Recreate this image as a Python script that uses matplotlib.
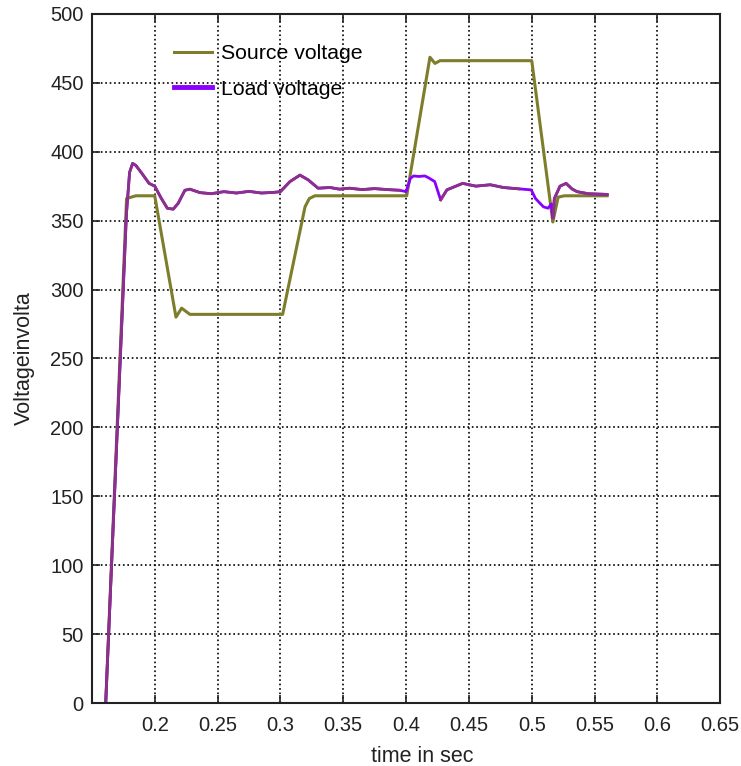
import numpy as np
import matplotlib
matplotlib.use('Agg')
from matplotlib import pyplot as plt

plt.rcParams['font.family'] = ['Liberation Sans', 'DejaVu Sans']

# source voltage trace (time in s, volts)
src_t = [0.161, 0.1776, 0.185, 0.2, 0.2169, 0.2214, 0.228, 0.3018, 0.3196, 0.323,
         0.3275, 0.4, 0.4005, 0.419, 0.423, 0.427, 0.5, 0.5168, 0.521, 0.526, 0.56]
src_v = [0, 366, 368, 368, 280, 286.5, 282, 282, 360, 366,
         368, 368, 368, 468.5, 464, 466, 466, 349, 367, 368, 368]

# load voltage trace
load_t = [0.161, 0.1775, 0.18, 0.1824, 0.185, 0.19, 0.1955, 0.2, 0.205, 0.21,
          0.2147, 0.2187, 0.224, 0.228, 0.236, 0.245, 0.255, 0.265, 0.275, 0.285,
          0.295, 0.30, 0.3076, 0.3156, 0.3222, 0.330, 0.3395, 0.347, 0.355, 0.365,
          0.375, 0.385, 0.395, 0.4, 0.4035, 0.406, 0.41, 0.415, 0.418, 0.4228,
          0.4275, 0.4325, 0.445, 0.4556, 0.467, 0.4775, 0.49, 0.4996, 0.503, 0.5093,
          0.513, 0.5155, 0.5168, 0.518, 0.5225, 0.5274, 0.532, 0.536, 0.545, 0.56]
load_v = [0, 355, 385, 391.5, 390, 384, 377, 375, 366.5, 359,
          358.3, 362.6, 372, 372.8, 370.3, 369.5, 371, 370, 371.2, 370,
          370.5, 371, 378.3, 383, 379.5, 373.5, 374, 372.8, 373.5, 372.5,
          373.2, 372.5, 372, 371, 380.7, 382.4, 382, 382.4, 381, 378.3,
          365, 372.3, 377, 375, 376, 374, 373, 372.3, 366, 360,
          359, 362, 352, 366, 375, 377, 373, 371, 369.5, 369]

x_ticks = [0.2, 0.25, 0.3, 0.35, 0.4, 0.45, 0.5, 0.55, 0.6, 0.65]
x_labels = ['0.2', '0.25', '0.3', '0.35', '0.4', '0.45', '0.5', '0.55', '0.6', '0.65']
y_ticks = list(range(0, 501, 50))

fig = plt.figure(figsize=(7.41, 7.66), dpi=100)
ax = fig.add_axes([0.124, 0.082, 0.848, 0.9])

lt = np.array(load_t)
lv = np.array(load_v, dtype=float)
# parts of the load trace that show up in bright violet
violet = ((lt >= 0.4) & (lt <= 0.4228)) | ((lt >= 0.4996) & (lt <= 0.5155))
purple_v = np.where(violet, np.nan, lv)

ax.plot(src_t, src_v, color='#7d7d2b', lw=2.2, label='Source voltage')
ax.plot(lt, lv, color='#8a00ff', lw=2, label='Load voltage')
ax.plot(lt, purple_v, color='#8b3187', lw=2)

ax.set_xlim(0.15, 0.65)
ax.set_ylim(0, 500)
ax.set_xticks(x_ticks)
ax.set_xticklabels(x_labels)
ax.set_yticks(y_ticks)
ax.grid(True, color='black', linestyle=':', linewidth=1.2)
ax.tick_params(direction='in', length=6, width=1.2, top=True, right=True,
               labelsize=14.5, colors='#222222')
ax.tick_params(axis='x', pad=9)
ax.tick_params(axis='y', pad=6)
for s in ax.spines.values():
    s.set_linewidth(1.5)
    s.set_color('#222222')

ax.set_xlabel('time in sec', fontsize=15.5, color='#222222')
ax.set_ylabel('Voltageinvolta', fontsize=15.5, color='#222222')
ax.xaxis.set_label_coords(0.525, -0.062)
ax.yaxis.set_label_coords(-0.09, 0.5)

leg = ax.legend(loc='upper left', bbox_to_anchor=(0.13, 0.956), frameon=False,
                fontsize=15.3, handlelength=1.8, handletextpad=0.45,
                labelspacing=0.78, borderpad=0, borderaxespad=0)
leg.get_lines()[1].set_linewidth(3.5)

fig.savefig('out.png', dpi=100)
